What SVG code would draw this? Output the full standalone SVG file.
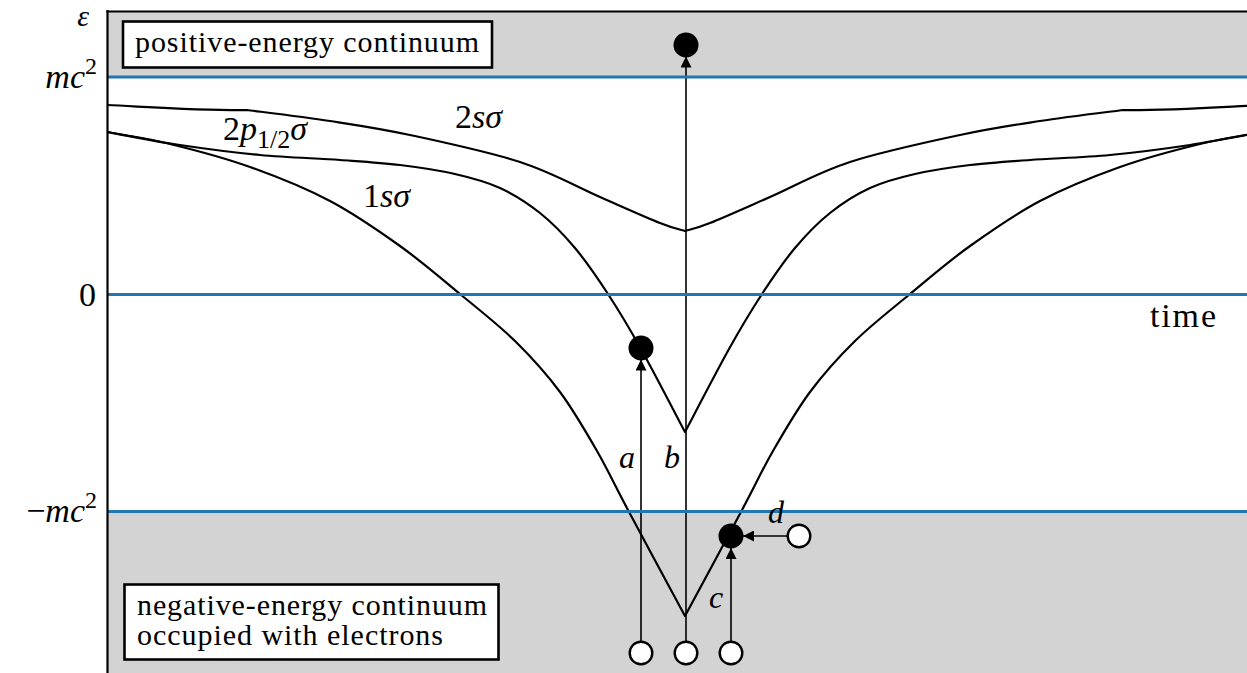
<svg xmlns="http://www.w3.org/2000/svg" width="1247" height="673" viewBox="0 0 1247 673">
<style>
  .bg { fill: #ffffff; }
  .cont { fill: #d3d3d3; }
  .lvl { stroke: #1f77b4; stroke-width: 3; fill: none; }
  .curve { stroke: #000; stroke-width: 2.2; fill: none; stroke-linejoin: round; }
  .axis { stroke: #000; stroke-width: 2.2; fill: none; }
  .box { fill: #ffffff; stroke: #000; stroke-width: 2.6; }
  .arrow { stroke: #000; stroke-width: 1.6; fill: none; marker-end: url(#ah); }
  .full { fill: #000; }
  .hole { fill: #fff; stroke: #000; stroke-width: 2.4; }
  text { fill: #000; }
  .lab { font-size: 34px; }
  .tr { font-size: 32px; font-style: italic; }
  .eps { font-size: 30px; font-style: italic; }
  .boxt { font-size: 30px; }
  .it { font-style: italic; }
</style>
<defs>
  <marker id="ah" viewBox="0 0 11 11" refX="11" refY="5.5" markerWidth="11" markerHeight="11" markerUnits="userSpaceOnUse" orient="auto">
    <path d="M0,0 L11,5.5 L0,11 z" fill="#000"/>
  </marker>
</defs>
<rect class="bg" x="0" y="0" width="1247" height="673"/>
<g id="continua">
  <rect class="cont" x="107" y="11" width="1140" height="66"/>
  <rect class="cont" x="107" y="511.5" width="1140" height="162"/>
</g>
<g id="curves">
  <path id="c1s" class="curve" d="M107,132 C117.5,134 146.17,138.17 170,144 C193.83,149.83 223.33,157.5 250,167 C276.67,176.5 305,187.83 330,201 C355,214.17 378.33,230.5 400,246 C421.67,261.5 440.83,278.17 460,294 C479.17,309.83 498.33,324.67 515,341 C531.67,357.33 546.33,373.67 560,392 C573.67,410.33 585.67,431.33 597,451 C608.33,470.67 613.33,482.5 628,510 C642.67,537.5 675.5,598.33 685,616 C694.5,598.33 727.33,537.5 742,510 C756.67,482.5 761.67,470.67 773,451 C784.33,431.33 796.33,410.33 810,392 C823.67,373.67 838.33,357.33 855,341 C871.67,324.67 890.83,309.83 910,294 C929.17,278.17 948.33,261.5 970,246 C991.67,230.5 1015,214.17 1040,201 C1065,187.83 1093.33,176.5 1120,167 C1146.67,157.5 1176.17,149.83 1200,144 C1223.83,138.17 1252.5,134 1263,132"/>
  <path id="c2p" class="curve" d="M107,132 C119.17,134.17 154.5,141.17 180,145 C205.5,148.83 233.33,152.5 260,155 C286.67,157.5 316.67,158.33 340,160 C363.33,161.67 380.83,162.67 400,165 C419.17,167.33 438.33,170.17 455,174 C471.67,177.83 485.83,181.5 500,188 C514.17,194.5 527.5,203 540,213 C552.5,223 563.67,234.5 575,248 C586.33,261.5 597,277.17 608,294 C619,310.83 628.17,326 641,349 C653.83,372 677.67,418.17 685,432 C692.33,418.17 716.17,372 729,349 C741.83,326 751,310.83 762,294 C773,277.17 783.67,261.5 795,248 C806.33,234.5 817.5,223 830,213 C842.5,203 855.83,194.5 870,188 C884.17,181.5 898.33,177.83 915,174 C931.67,170.17 950.83,167.33 970,165 C989.17,162.67 1006.67,161.67 1030,160 C1053.33,158.33 1083.33,157.5 1110,155 C1136.67,152.5 1164.5,148.83 1190,145 C1215.5,141.17 1250.83,134.17 1263,132"/>
  <path id="c2s" class="curve" d="M107,105 C150,107 200,110.5 247,110 C260.8,111.8 302.8,116.8 330,121 C357.2,125.2 378.3,128.2 410,135 C441.7,141.8 488.3,151.7 520,162 C551.7,172.3 576.7,186.8 600,197 C623.3,207.2 645.8,217.3 660,223 C674.2,228.7 680.8,229.7 685,231 C689.2,229.7 695.8,228.7 710,223 C724.2,217.3 746.7,207.2 770,197 C793.3,186.8 818.3,172.3 850,162 C881.7,151.7 928.3,141.8 960,135 C991.7,128.2 1012.8,125.2 1040,121 C1067.2,116.8 1109.2,111.8 1123,110 C1170,110.5 1220,107 1263,105"/>
</g>
<g id="connectors">
  <line id="arrow-a" class="arrow" x1="641" y1="641" x2="641" y2="359.5"/>
  <line id="arrow-b" class="arrow" x1="686" y1="641" x2="686" y2="56.5"/>
  <line id="arrow-c" class="arrow" x1="731" y1="641" x2="731" y2="548"/>
  <line id="arrow-d" class="arrow" x1="787" y1="536" x2="743" y2="536"/>
</g>
<g id="levels">
  <line class="lvl" x1="108" y1="77" x2="1247" y2="77"/>
  <line class="lvl" x1="108" y1="294.5" x2="1247" y2="294.5"/>
  <line class="lvl" x1="108" y1="511.5" x2="1247" y2="511.5"/>
</g>
<g id="axes">
  <line class="axis" x1="107.5" y1="10" x2="107.5" y2="673"/>
  <line class="axis" x1="106.5" y1="11.5" x2="1247" y2="11.5"/>
</g>
<g font-family="'Liberation Serif', 'DejaVu Serif', serif">
<g id="positive-box">
  <rect class="box" x="123" y="21.5" width="369" height="46"/>
  <text class="boxt" x="135" y="52" textLength="344">positive-energy continuum</text>
</g>
<g id="negative-box">
  <rect class="box" x="124.5" y="584.5" width="374" height="75"/>
  <text class="boxt" x="137" y="615" textLength="350">negative-energy continuum</text>
  <text class="boxt" x="137" y="645" textLength="306">occupied with electrons</text>
</g>
<g id="labels">
  <text class="eps" x="89" y="26" text-anchor="end">ε</text>
  <text class="lab" x="97" y="88" text-anchor="end"><tspan class="it">mc</tspan><tspan font-size="24" dy="-14">2</tspan></text>
  <text class="lab" x="96" y="306" text-anchor="end">0</text>
  <text class="lab" x="97" y="522" text-anchor="end">−<tspan class="it">mc</tspan><tspan font-size="24" dy="-14">2</tspan></text>
  <text class="lab" x="1150" y="327" textLength="66">time</text>
  <text class="lab" x="223" y="140">2<tspan class="it">p</tspan><tspan font-size="26" dy="8">1/2</tspan><tspan class="it" dy="-8">σ</tspan></text>
  <text class="lab" x="455" y="128">2<tspan class="it">sσ</tspan></text>
  <text class="lab" x="363" y="207">1<tspan class="it">sσ</tspan></text>
  <text class="tr" x="619" y="468">a</text>
  <text class="tr" x="664" y="468">b</text>
  <text class="tr" x="709" y="608">c</text>
  <text class="tr" x="768" y="523">d</text>
</g>
</g>
<g id="electron-b"><circle class="full" cx="686" cy="45" r="12.5"/></g>
<g id="electron-a"><circle class="full" cx="641" cy="348" r="12.5"/></g>
<g id="electron-c"><circle class="full" cx="731" cy="536" r="12.5"/></g>
<g id="hole-a"><circle class="hole" cx="641" cy="653" r="11.3"/></g>
<g id="hole-b"><circle class="hole" cx="686" cy="653" r="11.3"/></g>
<g id="hole-c"><circle class="hole" cx="731" cy="653" r="11.3"/></g>
<g id="hole-d"><circle class="hole" cx="799" cy="536" r="11.3"/></g>
</svg>
